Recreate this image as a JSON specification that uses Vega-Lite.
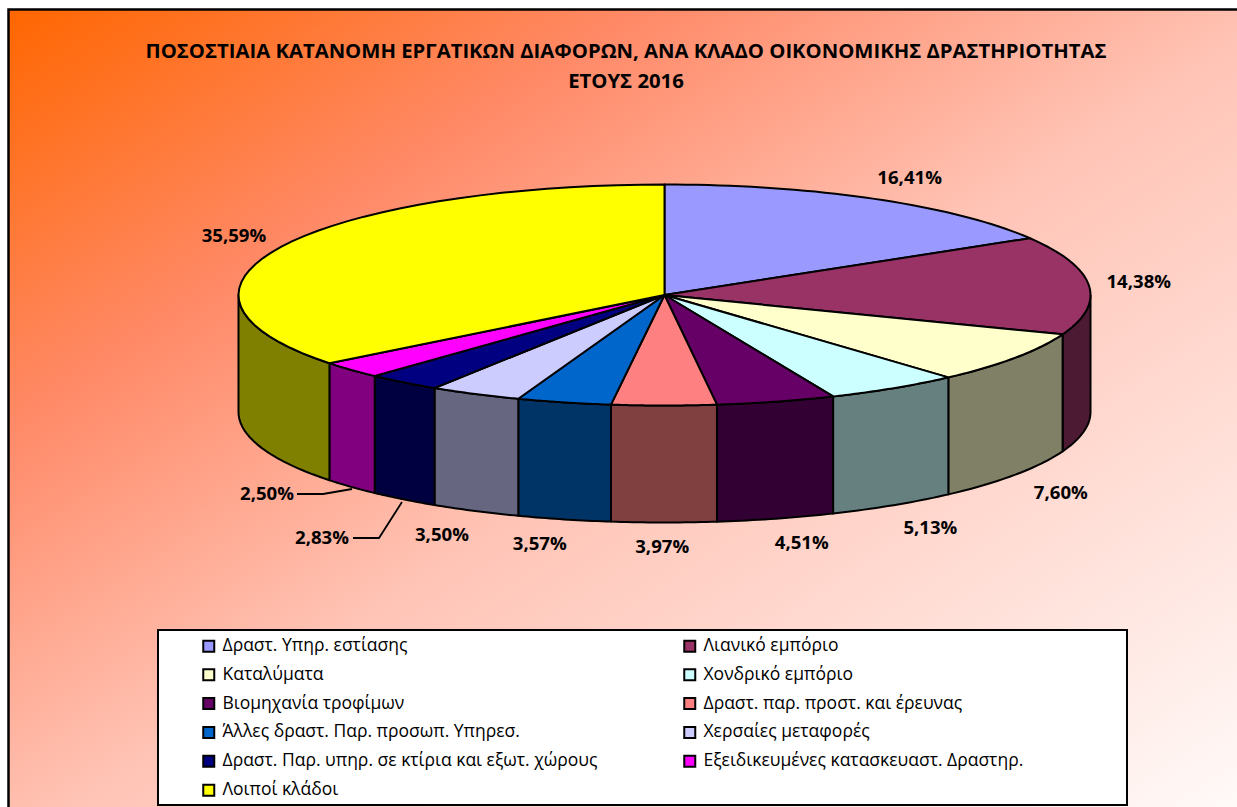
{
"$schema":"https://vega.github.io/schema/vega-lite/v6.json",
"width":1237,"height":807,"padding":0,"autosize":{"type":"none"},"background":"#ffffff",
"title":{"text":["ΠΟΣΟΣΤΙΑΙΑ ΚΑΤΑΝΟΜΗ ΕΡΓΑΤΙΚΩΝ ΔΙΑΦΟΡΩΝ, ΑΝΑ ΚΛΑΔΟ ΟΙΚΟΝΟΜΙΚΗΣ ΔΡΑΣΤΗΡΙΟΤΗΤΑΣ","ΕΤΟΥΣ 2016"],"font":"Open Sans","fontSize":20.3,"fontWeight":"bold","color":"#000000","anchor":"middle","dx":7.5,"lineHeight":30,"offset":-92,"baseline":"top"},
"config":{"view":{"stroke":null},"font":"Open Sans"},
"datasets":{"rows":[
{"sector":"Δραστ. Υπηρ. εστίασης","value":16.41},
{"sector":"Λιανικό εμπόριο","value":14.38},
{"sector":"Καταλύματα","value":7.60},
{"sector":"Χονδρικό εμπόριο","value":5.13},
{"sector":"Βιομηχανία τροφίμων","value":4.51},
{"sector":"Δραστ. παρ. προστ. και έρευνας","value":3.97},
{"sector":"Άλλες δραστ. Παρ. προσωπ. Υπηρεσ.","value":3.57},
{"sector":"Χερσαίες μεταφορές","value":3.50},
{"sector":"Δραστ. Παρ. υπηρ. σε κτίρια και εξωτ. χώρους","value":2.83},
{"sector":"Εξειδικευμένες κατασκευαστ. Δραστηρ.","value":2.50},
{"sector":"Λοιποί κλάδοι","value":35.59}
],
"leaders":[
{"seg":"a","n":0,"px":297,"py":494},{"seg":"a","n":1,"px":323,"py":494},{"seg":"a","n":2,"px":352,"py":489},
{"seg":"b","n":0,"px":353,"py":538},{"seg":"b","n":1,"px":379,"py":538},{"seg":"b","n":2,"px":402,"py":502}
]},
"layer":[
{"data":{"values":[{"a":1}]},
"mark":{"type":"rect","stroke":"#000000","strokeWidth":2.5,"fill":{"gradient":"linear","x1":0,"y1":0,"x2":1,"y2":1,"stops":[{"offset":0,"color":"#FF6600"},{"offset":0.25,"color":"#FF8A68"},{"offset":0.5,"color":"#FFC4B6"},{"offset":1,"color":"#FFFFFF"}]}},
"encoding":{"x":{"datum":8.5,"type":"quantitative","scale":{"domain":[0,1237],"range":[0,1237],"nice":false,"zero":false},"axis":null},"x2":{"datum":1290},"y":{"datum":9.5,"type":"quantitative","scale":{"domain":[0,807],"range":[0,807],"nice":false,"zero":false},"axis":null},"y2":{"datum":850}}},
{"data":{"name":"rows"},
"transform":[
{"window":[{"op":"sum","field":"value","as":"cum"}],"frame":[null,0]},
{"joinaggregate":[{"op":"sum","field":"value","as":"total"}]},
{"calculate":"(datum.cum-datum.value)/datum.total*2*PI","as":"a0"},
{"calculate":"datum.cum/datum.total*2*PI","as":"a1"},
{"filter":"datum.a1>PI/2 && datum.a0<3*PI/2"},
{"calculate":"max(datum.a0,PI/2)","as":"w0"},
{"calculate":"min(datum.a1,3*PI/2)","as":"w1"},
{"calculate":"sequence(0,43)","as":"step"},
{"flatten":["step"]},
{"calculate":"datum.step<=20?datum.step/20:(datum.step<=41?(41-datum.step)/20:0)","as":"t"},
{"calculate":"datum.w0+(datum.w1-datum.w0)*datum.t","as":"ang"},
{"calculate":"664.5+426*sin(datum.ang)","as":"px"},
{"calculate":"295-110.5*cos(datum.ang)+((datum.step>20&&datum.step<=41)?117:0)","as":"py"}
],
"mark":{"type":"line","stroke":"#000000","strokeWidth":2,"strokeJoin":"round"},
"encoding":{
"x":{"field":"px","type":"quantitative","scale":{"domain":[0,1237],"range":[0,1237],"nice":false,"zero":false},"axis":null},
"y":{"field":"py","type":"quantitative","scale":{"domain":[0,807],"range":[0,807],"nice":false,"zero":false},"axis":null},
"order":{"field":"step","type":"quantitative"},
"fill":{"field":"sector","type":"nominal","legend":null,"scale":{"domain":["Δραστ. Υπηρ. εστίασης","Λιανικό εμπόριο","Καταλύματα","Χονδρικό εμπόριο","Βιομηχανία τροφίμων","Δραστ. παρ. προστ. και έρευνας","Άλλες δραστ. Παρ. προσωπ. Υπηρεσ.","Χερσαίες μεταφορές","Δραστ. Παρ. υπηρ. σε κτίρια και εξωτ. χώρους","Εξειδικευμένες κατασκευαστ. Δραστηρ.","Λοιποί κλάδοι"],"range":["#4C4C80","#4D1A33","#808066","#668080","#330033","#804040","#003366","#666680","#000040","#800080","#808000"]}}
}},
{"data":{"values":[{"a":1}]},
"mark":{"type":"rect","stroke":"#000000","strokeWidth":2,"fill":"#ffffff"},
"encoding":{"x":{"datum":158,"type":"quantitative","scale":{"domain":[0,1237],"range":[0,1237],"nice":false,"zero":false},"axis":null},"x2":{"datum":1127},"y":{"datum":630,"type":"quantitative","scale":{"domain":[0,807],"range":[0,807],"nice":false,"zero":false},"axis":null},"y2":{"datum":805}}},
{"data":{"name":"rows"},
"transform":[
{"window":[{"op":"sum","field":"value","as":"cum"}],"frame":[null,0]},
{"joinaggregate":[{"op":"sum","field":"value","as":"total"}]},
{"calculate":"(datum.cum-datum.value)/datum.total*2*PI","as":"a0"},
{"calculate":"datum.cum/datum.total*2*PI","as":"a1"},
{"calculate":"sequence(0,43)","as":"step"},
{"flatten":["step"]},
{"calculate":"datum.a0+(datum.a1-datum.a0)*clamp(datum.step-1,0,40)/40","as":"ang"},
{"calculate":"(datum.step==0||datum.step==42)?664.5:664.5+426*sin(datum.ang)","as":"px"},
{"calculate":"(datum.step==0||datum.step==42)?295:295-110.5*cos(datum.ang)","as":"py"}
],
"mark":{"type":"line","stroke":"#000000","strokeWidth":2,"strokeJoin":"round"},
"encoding":{
"x":{"field":"px","type":"quantitative","scale":{"domain":[0,1237],"range":[0,1237],"nice":false,"zero":false},"axis":null},
"y":{"field":"py","type":"quantitative","scale":{"domain":[0,807],"range":[0,807],"nice":false,"zero":false},"axis":null},
"order":{"field":"step","type":"quantitative"},
"fill":{"field":"sector","type":"nominal","scale":{"domain":["Δραστ. Υπηρ. εστίασης","Λιανικό εμπόριο","Καταλύματα","Χονδρικό εμπόριο","Βιομηχανία τροφίμων","Δραστ. παρ. προστ. και έρευνας","Άλλες δραστ. Παρ. προσωπ. Υπηρεσ.","Χερσαίες μεταφορές","Δραστ. Παρ. υπηρ. σε κτίρια και εξωτ. χώρους","Εξειδικευμένες κατασκευαστ. Δραστηρ.","Λοιποί κλάδοι"],"range":["#9999FF","#993366","#FFFFCC","#CCFFFF","#660066","#FF8080","#0066CC","#CCCCFF","#000080","#FF00FF","#FFFF00"]},
"legend":{"title":null,"orient":"none","direction":"horizontal","legendX":200,"legendY":637,"columns":2,"columnPadding":82,"rowPadding":8.9,"symbolType":"square","symbolSize":121,"symbolStrokeColor":"#000000","symbolStrokeWidth":2,"labelFont":"Open Sans","labelFontSize":17.5,"labelColor":"#000000","labelLimit":500,"labelOffset":5,"padding":0}}
}},
{"data":{"name":"leaders"},
"mark":{"type":"line","stroke":"#000000","strokeWidth":1.8},
"encoding":{
"x":{"field":"px","type":"quantitative","scale":{"domain":[0,1237],"range":[0,1237],"nice":false,"zero":false},"axis":null},
"y":{"field":"py","type":"quantitative","scale":{"domain":[0,807],"range":[0,807],"nice":false,"zero":false},"axis":null},
"detail":{"field":"seg"},"order":{"field":"n","type":"quantitative"}}},
{"data":{"name":"rows"},
"transform":[
{"window":[{"op":"sum","field":"value","as":"cum"}],"frame":[null,0]},
{"joinaggregate":[{"op":"sum","field":"value","as":"total"}]},
{"calculate":"(datum.cum-datum.value/2)/datum.total*2*PI","as":"mid"},
{"calculate":"sin(datum.mid)","as":"s"},
{"calculate":"cos(datum.mid)","as":"c"},
{"calculate":"replace(format(datum.value,'.2f'),'.',',')+'%'","as":"lab"},
{"calculate":"datum.value==2.83?322:(datum.value==2.5?267:664.5+426*datum.s+50*(datum.s<0?-1:1)*pow(abs(datum.s),0.5))","as":"lx"},
{"calculate":"datum.value==2.83?538:(datum.value==2.5?494:(datum.c<0?295-110.5*datum.c+117+25*pow(abs(datum.c),0.5):295-133.5*datum.c-1))","as":"ly"}
],
"mark":{"type":"text","font":"Open Sans","fontWeight":"bold","fontSize":18.6,"color":"#000000","align":"center","baseline":"middle"},
"encoding":{
"x":{"field":"lx","type":"quantitative","scale":{"domain":[0,1237],"range":[0,1237],"nice":false,"zero":false},"axis":null},
"y":{"field":"ly","type":"quantitative","scale":{"domain":[0,807],"range":[0,807],"nice":false,"zero":false},"axis":null},
"text":{"field":"lab"}}}
],
"resolve":{"scale":{"fill":"independent"}}
}
